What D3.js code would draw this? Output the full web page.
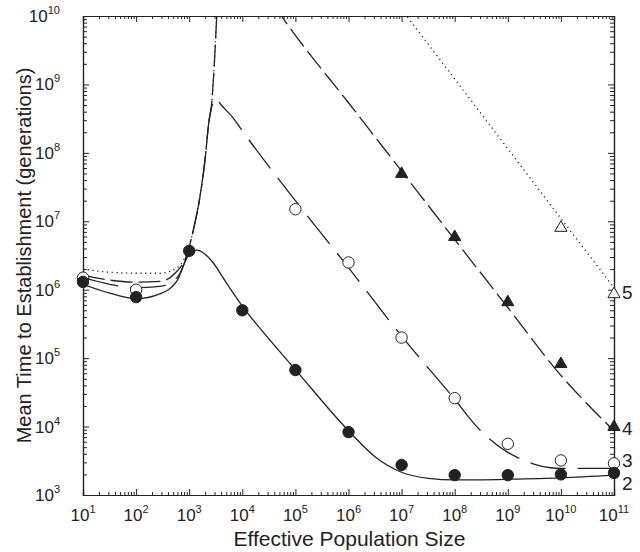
<!DOCTYPE html>
<html>
<head>
<meta charset="utf-8">
<script src="https://cdn.jsdelivr.net/npm/d3@7"></script>
<style>
  body { margin: 0; background: #fff; }
  svg text { font-family: "Liberation Sans", Arial, sans-serif; fill: #222; }
</style>
</head>
<body>
<div id="chart"></div>
<script>
// decade exponents for tick labels
const xTickExps = [1, 2, 3, 4, 5, 6, 7, 8, 9, 10, 11];
const yTickExps = [3, 4, 5, 6, 7, 8, 9, 10];

// model curves, [population size, generations]
const curve2 = [[10, 1.2e6], [32, 8.9e5], [100, 7.4e5], [280, 8.7e5], [590, 1.35e6], [910, 2.95e6],
  [1400, 3.8e6], [2000, 3.3e6], [2800, 2.5e6], [5000, 1.26e6], [1e4, 5.75e5], [3.2e4, 1.9e5],
  [1e5, 6.8e4], [1e6, 8.7e3], [3.2e6, 3.6e3], [1e7, 2.15e3], [3.2e7, 1.75e3], [1e8, 1.66e3],
  [1e9, 1.7e3], [1e10, 1.78e3], [1e11, 1.95e3]];
const curve3 = [[10, 1.5e6], [32, 1.2e6], [100, 1.07e6], [280, 1.12e6], [590, 1.5e6], [910, 3.2e6],
  [1260, 8.9e6], [1580, 2.2e7], [2000, 8.3e7], [2340, 2.8e8], [2570, 4.2e8], [3100, 6.3e8],
  [4000, 5e8], [6600, 3.3e8], [1e4, 2.1e8], [1e5, 2e7], [1e6, 2.1e6], [1e7, 2.1e5], [1e8, 2.5e4],
  [2.6e8, 1.0e4], [1e9, 4.2e3], [1.7e9, 3.4e3], [3.2e9, 2.8e3], [6.3e9, 2.5e3], [1e10, 2.45e3],
  [1e11, 2.45e3]];
const curve4Rise = [[10, 1.62e6], [32, 1.38e6], [100, 1.29e6], [280, 1.32e6], [540, 1.74e6],
  [910, 3.3e6], [1260, 8.9e6], [1580, 2.2e7], [2000, 8.3e7], [2340, 2.8e8], [2630, 5e8],
  [2950, 1.8e9], [3300, 1e10], [3600, 4e10]];
const curve4Fall = [[4e4, 1.4e10], [1e5, 5.2e9], [1e6, 5.4e8], [1e7, 5.4e7], [1e8, 5.4e6],
  [1e9, 5.5e5], [1e10, 5.6e4], [3.2e10, 2.1e4], [1e11, 8.7e3]];
const curve5Rise = [[10, 2.0e6], [32, 1.8e6], [100, 1.74e6], [280, 1.74e6], [540, 2.0e6],
  [910, 3.5e6], [1260, 8.9e6], [1580, 2.2e7], [2000, 8.3e7], [2340, 2.8e8], [2630, 5e8],
  [2950, 1.8e9], [3300, 1e10], [3600, 4e10]];
const curve5Fall = [[1e7, 1.25e10], [1e8, 1.2e9], [1e9, 1.15e8], [1e10, 1.1e7], [1e11, 1.07e6]];

// simulation points
const sim2 = [[10, 1.3e6], [100, 7.8e5], [1e3, 3.7e6], [1e4, 5.0e5], [1e5, 6.7e4], [1e6, 8.3e3],
  [1e7, 2.75e3], [1e8, 1.95e3], [1e9, 1.95e3], [1e10, 2.0e3], [1e11, 2.1e3]];
const sim3 = [[10, 1.5e6], [100, 1.0e6], [1e5, 1.5e7], [1e6, 2.5e6], [1e7, 2.0e5], [1e8, 2.6e4],
  [1e9, 5.6e3], [1e10, 3.2e3], [1e11, 2.9e3]];
const sim4 = [[1e7, 5.1e7], [1e8, 6.1e6], [1e9, 6.8e5], [1e10, 8.5e4], [1e11, 1.02e4]];
const sim5 = [[1e10, 8.3e6], [1e11, 8.9e5]];

const curveLabels = [["5", 9.3e5], ["4", 9.5e3], ["3", 3.2e3], ["2", 1.5e3]];

const width = 640, height = 552;
const margin = { top: 16, right: 26, bottom: 57, left: 83 };
const ink = "#222";

const svg = d3.select("#chart").append("svg")
  .attr("width", width).attr("height", height);

const x = d3.scaleLog().domain([10, 1e11]).range([margin.left, width - margin.right]);
const y = d3.scaleLog().domain([1e3, 1e10]).range([height - margin.bottom, margin.top]);

svg.append("clipPath").attr("id", "plotClip")
  .append("rect")
  .attr("x", x.range()[0]).attr("y", y.range()[1])
  .attr("width", x.range()[1] - x.range()[0])
  .attr("height", y.range()[0] - y.range()[1]);

// minor ticks: 2..9 in each decade
function minorTicks(lo, hi) {
  let out = [];
  for (let e = lo; e < hi; e++) {
    for (let m = 2; m < 10; m++) out.push(m * Math.pow(10, e));
  }
  return out;
}
const xMajor = xTickExps.map(e => Math.pow(10, e));
const yMajor = yTickExps.map(e => Math.pow(10, e));
const xMinor = minorTicks(1, 11);
const yMinor = minorTicks(3, 10);

function drawAxis(gen, ticks, size, transform) {
  svg.append("g")
    .attr("transform", transform)
    .call(gen.tickValues(ticks).tickSize(size).tickFormat(""))
    .call(g => g.selectAll("line").attr("stroke", ink))
    .call(g => g.select(".domain").attr("stroke", ink).attr("stroke-width", 1.2));
}
const bottomY = y.range()[0], topY = y.range()[1];
const leftX = x.range()[0], rightX = x.range()[1];

drawAxis(d3.axisBottom(x), xMajor, -6, `translate(0,${bottomY})`);
drawAxis(d3.axisBottom(x), xMinor, -3, `translate(0,${bottomY})`);
drawAxis(d3.axisTop(x), xMajor, -6, `translate(0,${topY})`);
drawAxis(d3.axisTop(x), xMinor, -3, `translate(0,${topY})`);
drawAxis(d3.axisLeft(y), yMajor, -6, `translate(${leftX},0)`);
drawAxis(d3.axisLeft(y), yMinor, -4, `translate(${leftX},0)`);
drawAxis(d3.axisRight(y), yMajor, -6, `translate(${rightX},0)`);
drawAxis(d3.axisRight(y), yMinor, -4, `translate(${rightX},0)`);

// tick labels with superscripts
function powLabel(sel, exp) {
  sel.append("tspan").text("10");
  sel.append("tspan").attr("dy", -8).attr("font-size", 11).text(exp);
}
xTickExps.forEach(e => {
  svg.append("text")
    .attr("x", x(Math.pow(10, e)))
    .attr("y", bottomY + 26)
    .attr("text-anchor", "middle")
    .attr("font-size", 17)
    .call(powLabel, e);
});
yTickExps.forEach(e => {
  svg.append("text")
    .attr("x", leftX - 23)
    .attr("y", y(Math.pow(10, e)) + 6)
    .attr("text-anchor", "end")
    .attr("font-size", 17)
    .call(powLabel, e);
});

// titles
svg.append("text")
  .attr("x", (leftX + rightX) / 2 + 1)
  .attr("y", 546)
  .attr("text-anchor", "middle")
  .attr("font-size", 21)
  .text("Effective Population Size");
svg.append("text")
  .attr("transform", `translate(31,${(topY + bottomY) / 2}) rotate(-90)`)
  .attr("text-anchor", "middle")
  .attr("font-size", 20)
  .text("Mean Time to Establishment (generations)");

// curves
const line = d3.line()
  .x(d => x(d[0]))
  .y(d => y(d[1]))
  .curve(d3.curveMonotoneX);

const plot = svg.append("g").attr("clip-path", "url(#plotClip)");
const curves = [
  [curve5Rise, "1.2,3.6"], [curve5Fall, "1.2,3.6"],
  [curve4Rise, "22,6"], [curve4Fall, "22,6"],
  [curve3, "36,12"],
  [curve2, null]
];
curves.forEach(([data, dash]) => {
  plot.append("path")
    .datum(data)
    .attr("d", line)
    .attr("fill", "none")
    .attr("stroke", ink)
    .attr("stroke-width", 1.3)
    .attr("stroke-dasharray", dash);
});

// markers
const tri = d3.symbol().type(d3.symbolTriangle).size(64);
function circles(data, filled) {
  svg.append("g").selectAll("circle")
    .data(data)
    .join("circle")
    .attr("cx", d => x(d[0]))
    .attr("cy", d => y(d[1]))
    .attr("r", 5.7)
    .attr("fill", filled ? ink : "#fff")
    .attr("stroke", ink)
    .attr("stroke-width", 1);
}
function triangles(data, filled) {
  svg.append("g").selectAll("path")
    .data(data)
    .join("path")
    .attr("d", tri)
    .attr("transform", d => `translate(${x(d[0])},${y(d[1]) + 1})`)
    .attr("fill", filled ? ink : "#fff")
    .attr("stroke", ink)
    .attr("stroke-width", 1);
}
circles(sim3, false);
circles(sim2, true);
triangles(sim4, true);
triangles(sim5, false);

// curve numbers on the right
svg.append("g").selectAll("text")
  .data(curveLabels)
  .join("text")
  .attr("x", rightX + 8)
  .attr("y", d => y(d[1]) + 7)
  .attr("font-size", 19)
  .text(d => d[0]);
</script>
</body>
</html>
